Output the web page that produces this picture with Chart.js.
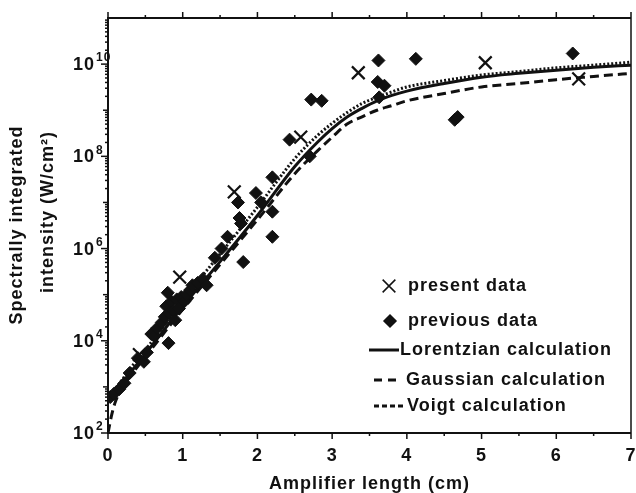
<!DOCTYPE html>
<html>
<head>
<meta charset="utf-8">
<script src="https://cdn.jsdelivr.net/npm/chart.js@4/dist/chart.umd.min.js"></script>
<style>
  html, body { margin: 0; padding: 0; background: #fff; }
  canvas { display: block; }
</style>
</head>
<body>
<canvas id="ampChart" width="636" height="493"></canvas>
<script>
"use strict";

// Axis ticks
const xTickValues = [0, 1, 2, 3, 4, 5, 6, 7];
const xTickLabels = ["0", "1", "2", "3", "4", "5", "6", "7"];
const yTickValues = [1e2, 1e4, 1e6, 1e8, 1e10];
const yTickExponents = ["2", "4", "6", "8", "10"];

// Calculated curves (amplifier length in cm, intensity in W/cm^2)
const curveX = [0, 0.05, 0.1, 0.2, 0.35, 0.5, 1, 1.5, 2, 2.5, 2.8, 3, 3.2, 3.4, 3.6, 3.8, 4, 4.5, 5, 5.5, 6, 6.5, 7];
const lorentzian = [5.6e2, 6.9e2, 8.5e2, 1.3e3, 2.6e3, 5.2e3, 5.6e4, 5.2e5, 5.2e6, 6.0e7, 2.0e8, 4.0e8, 7.1e8, 1.1e9, 1.6e9, 2.1e9, 2.6e9, 3.8e9, 5.2e9, 6.3e9, 7.4e9, 8.5e9, 9.5e9];
const gaussian   = [1.0e2, 2.5e2, 4.8e2, 1.0e3, 2.2e3, 4.5e3, 4.8e4, 4.5e5, 4.2e6, 4.2e7, 1.3e8, 2.6e8, 5.0e8, 7.2e8, 1.0e9, 1.26e9, 1.6e9, 2.3e9, 3.2e9, 3.8e9, 4.6e9, 5.4e9, 6.3e9];
const voigt      = [6.0e2, 7.4e2, 9.3e2, 1.5e3, 3.2e3, 6.3e3, 7.6e4, 7.6e5, 7.9e6, 8.9e7, 2.8e8, 5.2e8, 8.9e8, 1.4e9, 1.9e9, 2.5e9, 3.2e9, 4.4e9, 5.8e9, 6.9e9, 8.3e9, 9.5e9, 1.1e10];

// Measured points
const presentX = [0.42, 0.96, 1.69, 2.58, 3.35, 5.05, 6.30];
const presentY = [5.0e3, 2.4e5, 1.7e7, 2.6e8, 6.5e9, 1.07e10, 4.8e9];

const previousX = [0.03, 0.08, 0.15, 0.22, 0.29, 0.40, 0.48, 0.52, 0.58, 0.62, 0.66, 0.72, 0.76, 0.78, 0.80, 0.81, 0.82, 0.85, 0.88, 0.90,
                   0.92, 0.95, 0.98, 1.02, 1.05, 1.10, 1.13, 1.20, 1.27, 1.32, 1.43, 1.52, 1.60, 1.74, 1.76, 1.78, 1.81, 1.98, 2.05, 2.20,
                   2.20, 2.20, 2.43, 2.70, 2.72, 2.86, 3.62, 3.61, 3.70, 3.63, 4.12, 4.64, 4.68, 6.22];
const previousY = [6.0e2, 7.1e2, 8.9e2, 1.2e3, 2.0e3, 4.2e3, 3.5e3, 5.6e3, 1.4e4, 1.26e4, 1.9e4, 2.5e4, 3.3e4, 5.6e4, 1.1e5, 8.9e3, 4.0e4, 7.1e4, 4.5e4, 2.8e4,
                   7.9e4, 5.0e4, 8.9e4, 7.1e4, 1.0e5, 1.26e5, 1.6e5, 1.8e5, 2.2e5, 1.6e5, 6.3e5, 1.0e6, 1.8e6, 1.0e7, 4.6e6, 3.5e6, 5.1e5, 1.6e7, 1.0e7, 6.3e6,
                   1.8e6, 3.5e7, 2.3e8, 1.0e8, 1.7e9, 1.6e9, 1.2e10, 4.1e9, 3.4e9, 1.9e9, 1.3e10, 6.2e8, 7.1e8, 1.7e10];

const INK = "#111";
const FONT = "'Liberation Sans', Arial, 'DejaVu Sans', sans-serif";

function toPoints(xs, ys) {
    return xs.map((x, i) => ({ x: x, y: ys[i] }));
}

function curve(label, ys, dash) {
    return {
        label: label,
        data: toPoints(curveX, ys),
        showLine: true,
        borderColor: INK,
        borderWidth: 3,
        borderDash: dash,
        pointRadius: 0,
        cubicInterpolationMode: "monotone",
        fill: false
    };
}

// Frame, tick marks, y labels with exponents, y title and the in-plot legend
const decorPlugin = {
    id: "decor",
    beforeDraw(chart) {
        chart.ctx.letterSpacing = "1px";
    },
    afterDraw(chart) {
        const ctx = chart.ctx;
        const a = chart.chartArea;
        const xs = chart.scales.x;
        const ys = chart.scales.y;
        ctx.save();
        ctx.strokeStyle = INK;
        ctx.fillStyle = INK;

        // frame
        ctx.lineWidth = 2;
        ctx.beginPath();
        ctx.moveTo(a.right, a.top);
        ctx.lineTo(a.left, a.top);
        ctx.lineTo(a.left, a.bottom);
        ctx.lineTo(a.right, a.bottom);
        ctx.stroke();
        ctx.lineWidth = 1.5;
        ctx.beginPath();
        ctx.moveTo(a.right, a.top);
        ctx.lineTo(a.right, a.bottom);
        ctx.stroke();

        // x tick marks, bottom and top, every half centimetre
        for (let v = 0; v <= 7.001; v += 0.5) {
            const px = xs.getPixelForValue(v);
            const len = Number.isInteger(v) ? 6 : 3;
            ctx.beginPath();
            ctx.moveTo(px, a.bottom);
            ctx.lineTo(px, a.bottom + len);
            ctx.moveTo(px, a.top);
            ctx.lineTo(px, a.top - len);
            ctx.stroke();
        }

        // y tick marks, log decades and minors
        for (let e = 2; e <= 10; e++) {
            for (let m = 1; m <= 9; m++) {
                const py = ys.getPixelForValue(m * Math.pow(10, e));
                const len = m === 1 ? (e % 2 === 0 ? 7 : 5) : 3;
                ctx.beginPath();
                ctx.moveTo(a.left, py);
                ctx.lineTo(a.left - len, py);
                ctx.stroke();
            }
        }

        // y tick labels: "10" with raised exponent
        ctx.textBaseline = "middle";
        yTickValues.forEach((v, i) => {
            const py = ys.getPixelForValue(v);
            ctx.font = "bold 18px " + FONT;
            ctx.textAlign = "right";
            ctx.fillText("10", 95, py + 1);
            ctx.font = "bold 12px " + FONT;
            ctx.textAlign = "left";
            ctx.fillText(yTickExponents[i], 96, py - 6);
        });

        // y axis title, two rotated lines
        ctx.font = "bold 18px " + FONT;
        ctx.textAlign = "center";
        ctx.save();
        ctx.translate(17, 225);
        ctx.rotate(-Math.PI / 2);
        ctx.fillText("Spectrally integrated", 0, 0);
        ctx.restore();
        ctx.save();
        ctx.translate(48, 212);
        ctx.rotate(-Math.PI / 2);
        ctx.fillText("intensity (W/cm\u00B2)", 0, 0);
        ctx.restore();

        // legend
        ctx.textAlign = "left";
        Chart.helpers.drawPoint(ctx, { pointStyle: "crossRot", radius: 9, borderWidth: 2.2 }, 389, 286);
        ctx.fillText("present data", 408, 286);
        Chart.helpers.drawPoint(ctx, { pointStyle: "rectRot", radius: 6, borderWidth: 1 }, 390, 321);
        ctx.fillText("previous data", 408, 321);

        ctx.lineWidth = 3;
        ctx.beginPath();
        ctx.moveTo(369, 350);
        ctx.lineTo(399, 350);
        ctx.stroke();
        ctx.fillText("Lorentzian calculation", 400, 350);

        ctx.setLineDash([8, 6]);
        ctx.beginPath();
        ctx.moveTo(374, 380);
        ctx.lineTo(396, 380);
        ctx.stroke();
        ctx.setLineDash([]);
        ctx.fillText("Gaussian calculation", 406, 380);

        ctx.setLineDash([5, 3]);
        ctx.beginPath();
        ctx.moveTo(374, 406);
        ctx.lineTo(403, 406);
        ctx.stroke();
        ctx.setLineDash([]);
        ctx.fillText("Voigt calculation", 407, 406);

        ctx.restore();
    }
};

new Chart(document.getElementById("ampChart"), {
    type: "scatter",
    data: {
        datasets: [
            {
                label: "present data",
                data: toPoints(presentX, presentY),
                pointStyle: "crossRot",
                pointRadius: 9,
                borderColor: INK,
                borderWidth: 2.2
            },
            {
                label: "previous data",
                data: toPoints(previousX, previousY),
                pointStyle: "rectRot",
                pointRadius: 6.5,
                backgroundColor: INK,
                borderColor: INK,
                borderWidth: 1
            },
            curve("Lorentzian calculation", lorentzian, []),
            curve("Gaussian calculation", gaussian, [9, 5]),
            curve("Voigt calculation", voigt, [2, 2])
        ]
    },
    options: {
        responsive: false,
        animation: false,
        events: [],
        layout: { autoPadding: false, padding: { top: 18, right: 5, left: 0, bottom: 0 } },
        plugins: {
            legend: { display: false },
            tooltip: { enabled: false }
        },
        scales: {
            x: {
                type: "linear",
                min: 0,
                max: 7,
                grid: { display: false, drawTicks: false, tickLength: 0 },
                border: { display: false },
                afterBuildTicks: s => { s.ticks = xTickValues.map(v => ({ value: v })); },
                afterFit: s => { s.height = 60; s.paddingRight = 0; s.paddingLeft = 0; },
                ticks: {
                    padding: 12,
                    color: INK,
                    font: { family: FONT, size: 18, weight: "bold" },
                    callback: (v, i) => xTickLabels[i]
                },
                title: {
                    display: true,
                    text: "Amplifier length (cm)",
                    color: INK,
                    padding: 0,
                    font: { family: FONT, size: 18, weight: "bold", lineHeight: 1 }
                }
            },
            y: {
                type: "logarithmic",
                min: 1e2,
                max: 1e11,
                grid: { display: false, drawTicks: false, tickLength: 0 },
                border: { display: false },
                afterBuildTicks: s => { s.ticks = yTickValues.map(v => ({ value: v })); },
                afterFit: s => { s.width = 108; s.paddingTop = 0; s.paddingBottom = 0; },
                ticks: { display: false }
            }
        }
    },
    plugins: [decorPlugin]
});
</script>
</body>
</html>
